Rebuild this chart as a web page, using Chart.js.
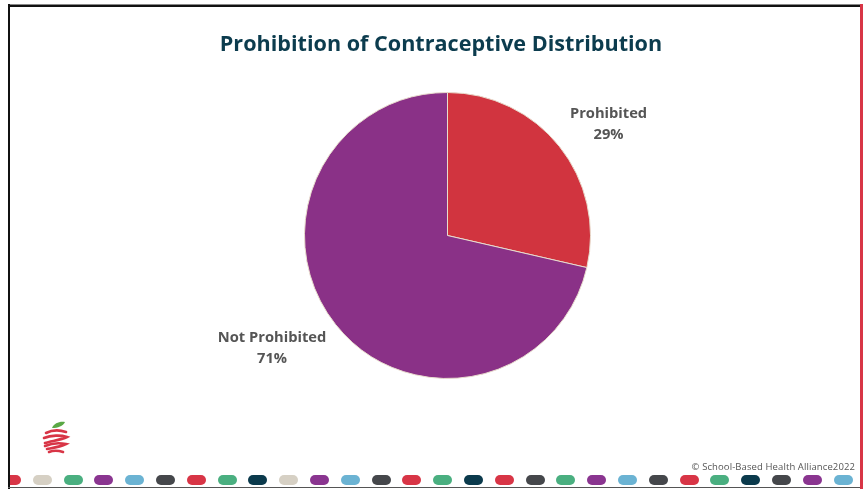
<!DOCTYPE html>
<html>
<head>
<meta charset="utf-8">
<script src="https://cdn.jsdelivr.net/npm/chart.js@4/dist/chart.umd.min.js"></script>
<style>
    html, body {
        margin: 0;
        padding: 0;
        background: #ffffff;
    }
    .slide {
        position: relative;
        width: 863px;
        height: 489px;
        overflow: hidden;
        background: #ffffff;
    }
    .chart-box {
        position: absolute;
        left: 0;
        top: 0;
        width: 863px;
        height: 489px;
    }
    .title {
        position: absolute;
        left: 0;
        width: 882px;
        top: 28px;
        text-align: center;
        font-family: "Open Sans", sans-serif;
        font-weight: bold;
        font-size: 21.6px;
        line-height: 30px;
        color: #0c3c4e;
    }
    /* slide frame */
    .frame-top {
        position: absolute; left: 8px; top: 4px; width: 852px; height: 3px;
        background: #111; border-top: 1px solid #888; box-sizing: border-box;
    }
    .frame-left {
        position: absolute; left: 8px; top: 4px; width: 2px; height: 485px; background: #111;
    }
    .frame-bottom {
        position: absolute; left: 8px; top: 487px; width: 852px; height: 1px; background: #555;
    }
    .frame-right {
        position: absolute; left: 860px; top: 4px; width: 3px; height: 485px; background: #d83546;
    }
    .pills {
        position: absolute;
        left: 10px;
        top: 475px;
        width: 850px;
        height: 11px;
        overflow: hidden;
    }
    .pill {
        position: absolute;
        top: 0;
        width: 19px;
        height: 10px;
        border-radius: 5px;
    }
    .copyright {
        position: absolute;
        right: 8px;
        top: 460px;
        font-family: "Open Sans", sans-serif;
        font-size: 9.5px;
        color: #555;
        letter-spacing: 0.1px;
    }
    .logo {
        position: absolute;
        left: 40px;
        top: 418px;
    }
</style>
</head>
<body>
<div class="slide">
    <div class="chart-box"><canvas id="pieChart"></canvas></div>
    <div class="title" id="chartTitle"></div>
    <svg class="logo" width="32" height="40" viewBox="0 0 32 40">
        <path d="M12 10 C14 5 20 3 25 4 C23 8 18 10 12 10 Z" fill="#5aa845"/>
        <g fill="none" stroke="#d83546" stroke-width="2.6" stroke-linecap="round">
            <path d="M6 15 C12 12 20 12 26 14"/>
            <path d="M4 20 C11 17 21 17 27 19 C21 22 11 23 5 25"/>
            <path d="M5 28 C12 25 21 25 26 26 C20 29 12 30 7 31"/>
            <path d="M9 34 C14 32 20 33 23 34"/>
        </g>
    </svg>
    <div class="copyright">© School-Based Health Alliance2022</div>
    <div class="pills" id="pills"></div>
    <div class="frame-top"></div>
    <div class="frame-left"></div>
    <div class="frame-bottom"></div>
    <div class="frame-right"></div>
</div>

<script>
// Chart data
const categories = ['Prohibited', 'Not Prohibited'];
const shares = [28.6, 71.4];
const sliceColors = ['#d1343f', '#8a3187'];
const chartTitle = 'Prohibition of Contraceptive Distribution';

// Decorative pill strip along the bottom of the slide
const pillColors = [
    '#d83546', '#d6d0c4', '#4aaf80', '#8a3590', '#6bb3d3', '#45474b', '#d83546',
    '#4aaf80', '#0b3a4c', '#d6d0c4', '#8a3590', '#6bb3d3', '#45474b', '#d83546',
    '#4aaf80', '#0b3a4c', '#d83546', '#45474b', '#4aaf80', '#8a3590', '#6bb3d3',
    '#45474b', '#d83546', '#4aaf80', '#0b3a4c', '#45474b', '#8a3590', '#6bb3d3'
];

document.getElementById('chartTitle').textContent = chartTitle;

const pillBox = document.getElementById('pills');
pillColors.forEach((color, i) => {
    const pill = document.createElement('div');
    pill.className = 'pill';
    pill.style.left = (i * 30.8 - 8) + 'px';
    pill.style.background = color;
    pillBox.appendChild(pill);
});

/**
 * Draws "name / percent" labels outside each slice
 */
const outsideLabels = {
    id: 'outsideLabels',
    afterDatasetsDraw(chart, args, opts) {
        const ctx = chart.ctx;
        const meta = chart.getDatasetMeta(0);
        const values = chart.data.datasets[0].data;
        const total = values.reduce((sum, v) => sum + v, 0);

        ctx.save();
        ctx.font = opts.font;
        ctx.fillStyle = opts.color;
        ctx.textAlign = 'center';
        ctx.textBaseline = 'middle';

        meta.data.forEach((arc, i) => {
            const p = arc.getProps(['x', 'y', 'startAngle', 'endAngle', 'outerRadius'], true);
            const mid = (p.startAngle + p.endAngle) / 2 + opts.nudge[i] * Math.PI / 180;
            const dist = p.outerRadius * opts.distance[i];
            const cx = p.x + Math.cos(mid) * dist;
            const cy = p.y + Math.sin(mid) * dist;
            const pct = Math.round(values[i] / total * 100) + '%';
            ctx.fillText(chart.data.labels[i], cx, cy - opts.lineGap / 2);
            ctx.fillText(pct, cx, cy + opts.lineGap / 2);
        });
        ctx.restore();
    }
};

const ctx = document.getElementById('pieChart').getContext('2d');
new Chart(ctx, {
    type: 'pie',
    data: {
        labels: categories,
        datasets: [{
            data: shares,
            backgroundColor: sliceColors,
            borderColor: '#e8dccd',
            borderWidth: 1
        }]
    },
    options: {
        responsive: true,
        maintainAspectRatio: false,
        animation: false,
        layout: {
            padding: { top: 92, bottom: 110, left: 132, right: 100 }
        },
        plugins: {
            legend: { display: false },
            tooltip: { enabled: false },
            title: { display: false },
            outsideLabels: {
                font: 'bold 14.7px "Open Sans", sans-serif',
                color: '#555555',
                lineGap: 21,
                distance: [1.37, 1.46],
                nudge: [3.8, 5.7]
            }
        }
    },
    plugins: [outsideLabels]
});
</script>
</body>
</html>
